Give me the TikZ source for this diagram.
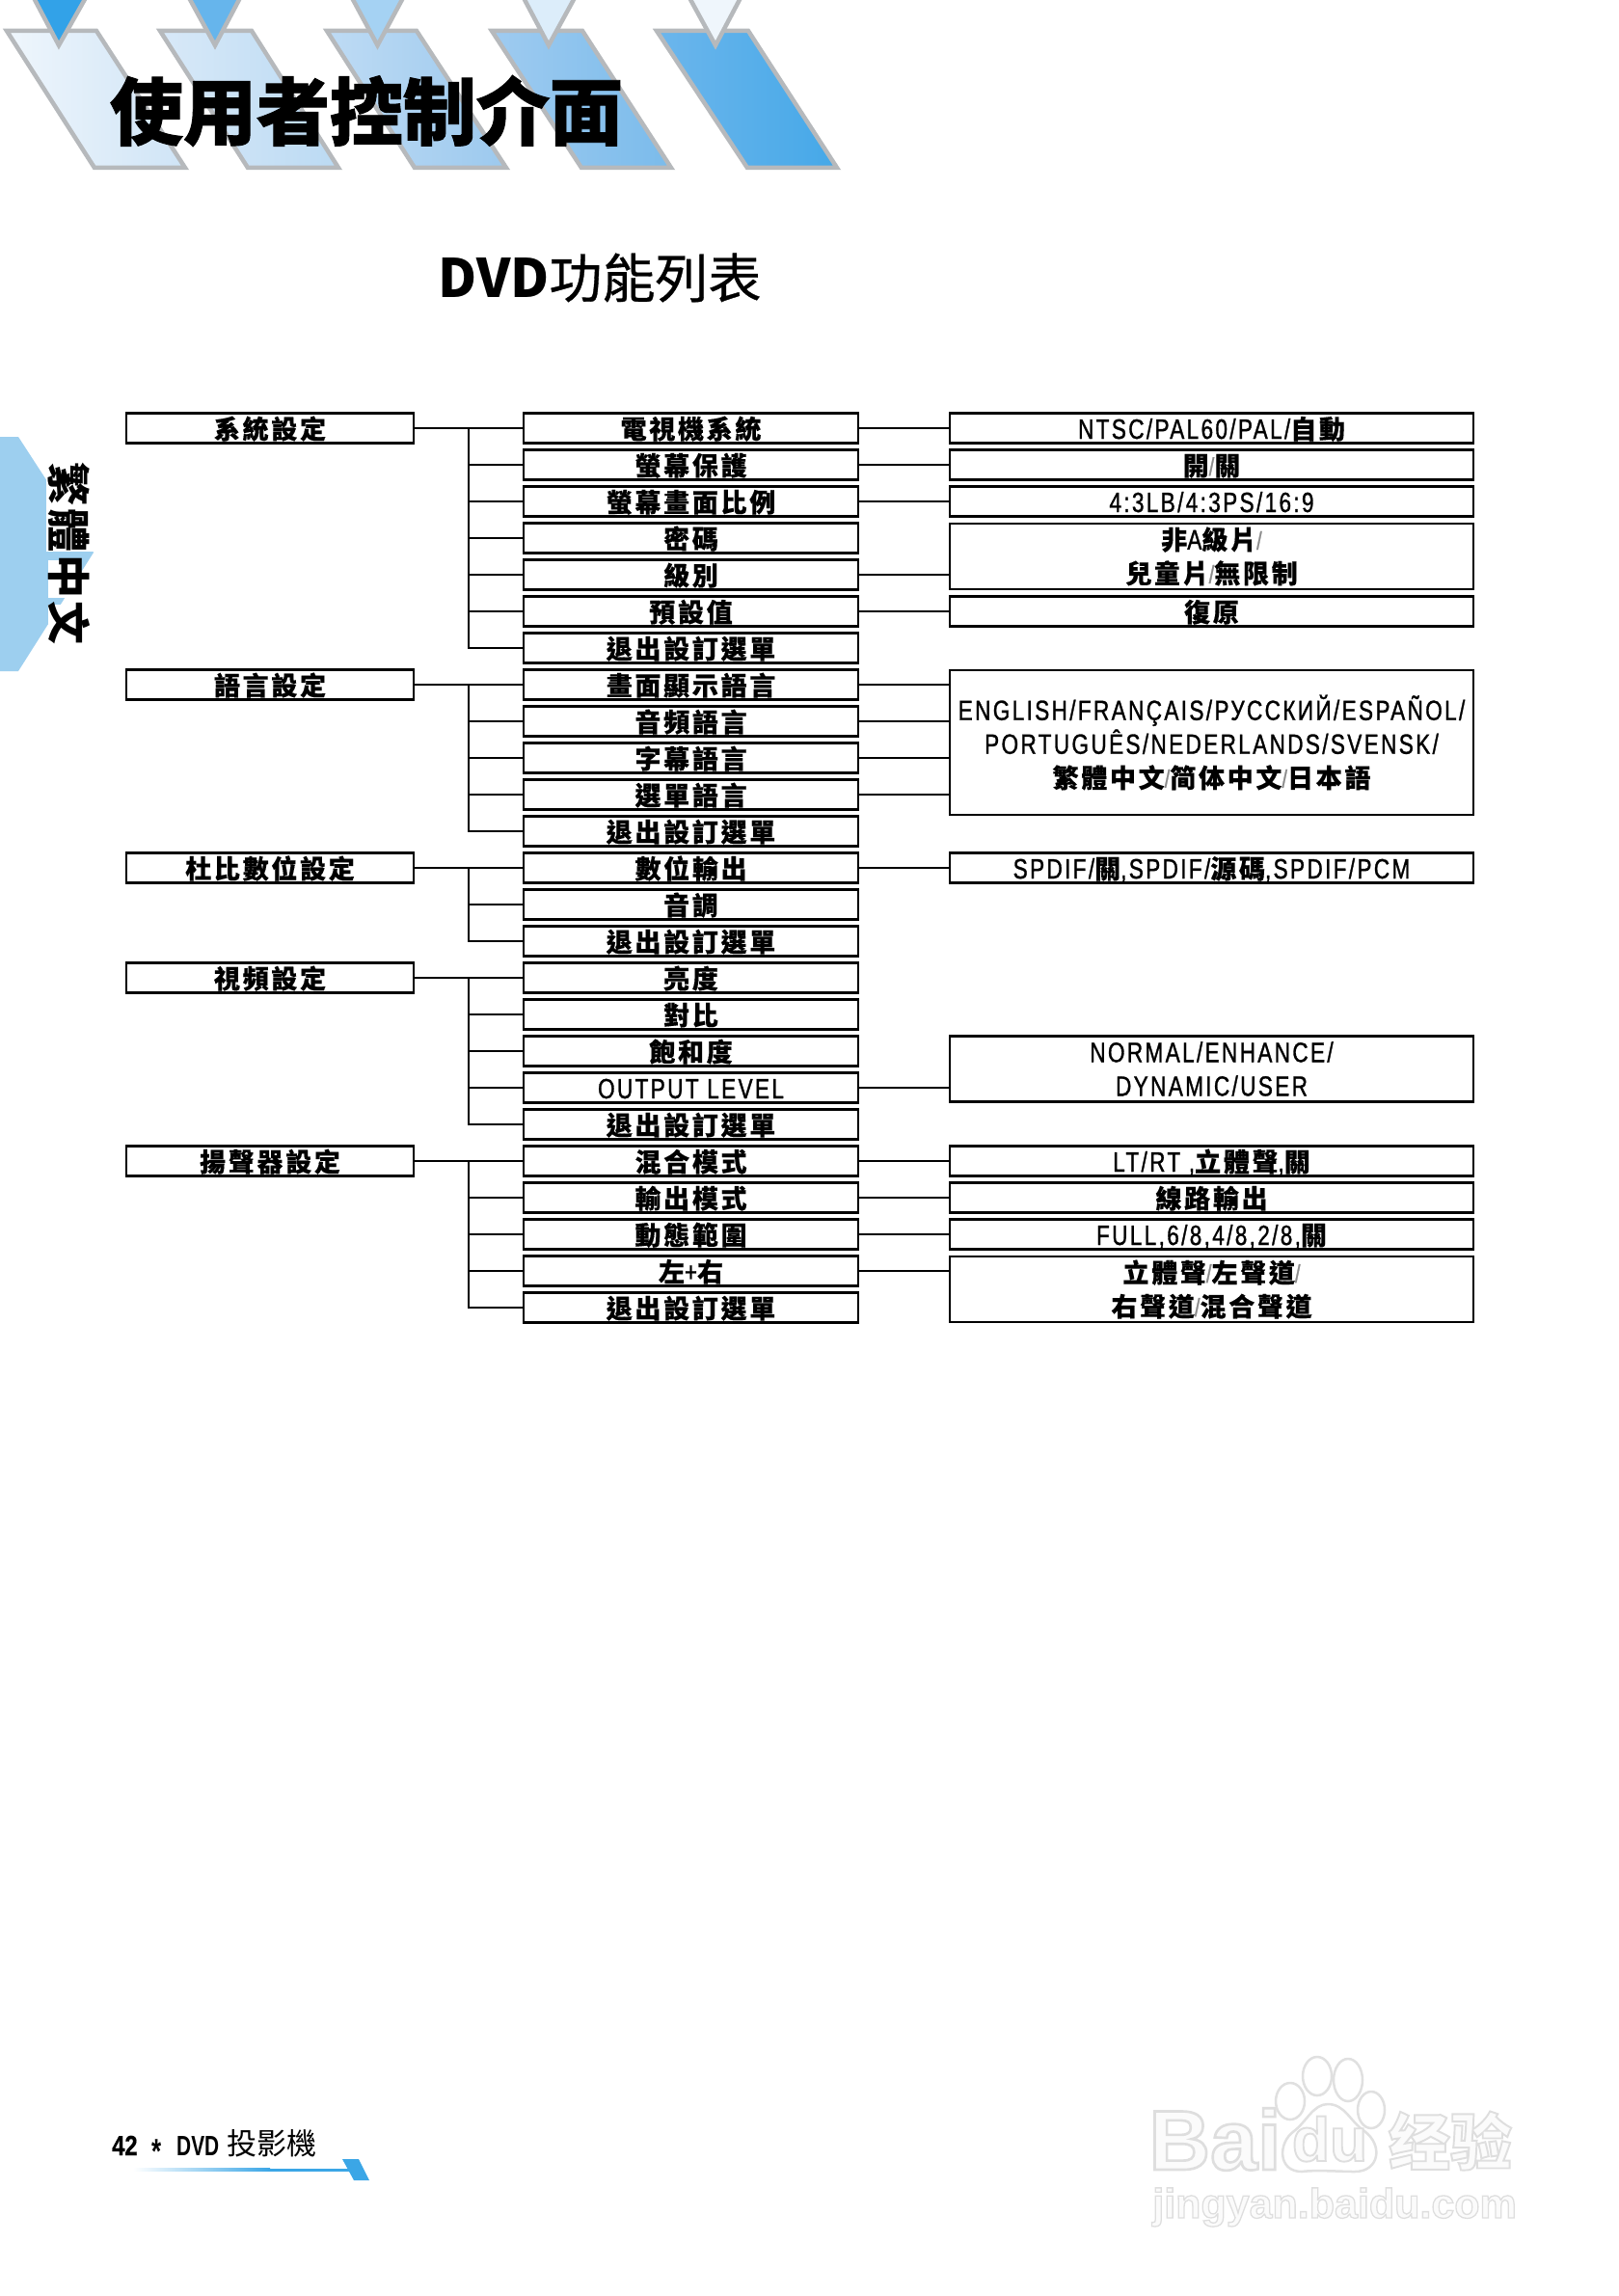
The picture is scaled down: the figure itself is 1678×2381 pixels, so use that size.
\documentclass[tikz,border=0pt]{standalone}
\usepackage{fontspec}
\newfontfamily\cjk[LetterSpace=10,FakeBold=0.35]{Noto Sans CJK TC}
\newfontfamily\cjktab[LetterSpace=6]{Noto Sans CJK TC}
\newfontfamily\cjktitle[FakeBold=1.2]{Noto Sans CJK TC}
\newfontfamily\cjksub[FakeBold=0.6]{Noto Sans CJK TC}
\newfontfamily\cjkplain{Noto Sans CJK TC}
\newfontfamily\cjkwm[FakeBold=3]{Noto Sans CJK SC}
\newfontfamily\narrow[FakeStretch=0.78,FakeBold=1.0,LetterSpace=8]{Liberation Sans}
\newfontfamily\narrowb[FakeStretch=0.72]{Liberation Sans}
\newfontfamily\narrowc[FakeStretch=0.82,FakeBold=0.5]{Liberation Sans}
\newfontfamily\wm[FakeBold=3]{Liberation Sans}
\newcommand{\la}[1]{{\fontsize{29}{35}\selectfont\mdseries\narrow #1}}
\newcommand{\sla}{{\fontsize{26}{35}\selectfont\mdseries\narrow\color{black!45}/}}
\newcommand{\hollow}[1]{\special{pdf:bcolor [0.985] [0.87]}#1\special{pdf:ecolor}}
\definecolor{edgegrey}{HTML}{B6B9BC}
\definecolor{tabblue}{HTML}{9DCFEF}
\definecolor{footblue}{HTML}{3BA6E6}
\definecolor{wmgrey}{HTML}{E0E0E0}
\definecolor{b1a}{HTML}{EFF6FC}\definecolor{b1b}{HTML}{CFE4F6}
\definecolor{b2a}{HTML}{D8E9F8}\definecolor{b2b}{HTML}{BBDAF3}
\definecolor{b3a}{HTML}{BEDBF4}\definecolor{b3b}{HTML}{9CC9EE}
\definecolor{b4a}{HTML}{9FCBF0}\definecolor{b4b}{HTML}{7ABBEB}
\definecolor{b5a}{HTML}{6CB6EC}\definecolor{b5b}{HTML}{45A8E8}
\definecolor{t1}{HTML}{32A2E8}\definecolor{t2}{HTML}{66B5EC}\definecolor{t3}{HTML}{A5D2F3}\definecolor{t4}{HTML}{DCEDFA}\definecolor{t5}{HTML}{EFF6FC}
\tikzset{
  tree/.style={draw=black,line width=2.1pt,fill=white,rectangle,inner sep=0pt,outer sep=0pt,
    font=\fontsize{27}{35}\selectfont\cjk\bfseries,align=center},
  one/.style={tree,minimum height=31pt,text height=23pt,text depth=1pt},
  lbox/.style={one,minimum width=298pt},
  mbox/.style={one,minimum width=347pt},
  rbox/.style={one,minimum width=543.5pt},
  rmulti/.style={tree,minimum width=543.5pt},
  conn/.style={draw=black,line width=2.1pt},
  band/.style={draw=edgegrey,line width=4.5pt,line join=miter},
  tip/.style={draw=edgegrey,line width=4.5pt,line join=miter},
  wmtext/.style={inner sep=0pt,anchor=base},
  wmshape/.style={draw=wmgrey,line width=2.5pt,fill=white}
}
\begin{document}
\begin{tikzpicture}[x=1pt,y=-1pt]
\useasboundingbox (0,0) rectangle (1678,2381);
\fill[white] (0,0) rectangle (1678,2381);
% header bands
\path[band,left color=b1a,right color=b1b] (7,32)--(100,32)--(192,174)--(98,174)--cycle;
\path[band,left color=b2a,right color=b2b] (166,32)--(261,32)--(351,174)--(257,174)--cycle;
\path[band,left color=b3a,right color=b3b] (339,32)--(432,32)--(525,174)--(430,174)--cycle;
\path[band,left color=b4a,right color=b4b] (510,32)--(604,32)--(696,174)--(603,174)--cycle;
\path[band,left color=b5a,right color=b5b] (681,32)--(776,32)--(868,174)--(775,174)--cycle;
% header tips
\path[tip,fill=t1] (33,-6)--(91,-6)--(61,47)--cycle;
\path[tip,fill=t2] (194,-6)--(251,-6)--(223,47)--cycle;
\path[tip,fill=t3] (363,-6)--(420,-6)--(391.5,47)--cycle;
\path[tip,fill=t4] (541,-6)--(598,-6)--(569,47)--cycle;
\path[tip,fill=t5] (713,-6)--(770,-6)--(742,47)--cycle;
% titles
\node[inner sep=0pt,font=\fontsize{76}{80}\selectfont\cjktitle\bfseries] (title) at (380,115) {使用者控制介面};
\node[inner sep=0pt,font=\fontsize{55}{60}\selectfont\cjksub] (subtitle) at (622,288) {{\cjkplain\bfseries DVD}功能列表};
% side tab
\fill[tabblue] (0,453)--(19,453)--(97,573)--(19,696)--(0,696)--cycle;
\fill[white] (48,478) rectangle (97,572);
\fill[white] (50,581) rectangle (80,620);
\fill[white] (50,627) rectangle (64,668);
\node[inner sep=0pt,rotate=-90,font=\fontsize{45}{50}\selectfont\cjktab\bfseries] (tab) at (72,574) {繁體中文};
% bus junctions
\coordinate (b0) at (486,444);
\coordinate (b1) at (486,710);
\coordinate (b2) at (486,900);
\coordinate (b3) at (486,1014);
\coordinate (b4) at (486,1204);
% left column
\node[lbox] (l0) at (280,444) {系統設定};
\node[lbox] (l1) at (280,710) {語言設定};
\node[lbox] (l2) at (280,900) {杜比數位設定};
\node[lbox] (l3) at (280,1014) {視頻設定};
\node[lbox] (l4) at (280,1204) {揚聲器設定};
% middle column
\node[mbox] (m0) at (716.5,444) {電視機系統};
\node[mbox] (m1) at (716.5,482) {螢幕保護};
\node[mbox] (m2) at (716.5,520) {螢幕畫面比例};
\node[mbox] (m3) at (716.5,558) {密碼};
\node[mbox] (m4) at (716.5,596) {級別};
\node[mbox] (m5) at (716.5,634) {預設值};
\node[mbox] (m6) at (716.5,672) {退出設訂選單};
\node[mbox] (m7) at (716.5,710) {畫面顯示語言};
\node[mbox] (m8) at (716.5,748) {音頻語言};
\node[mbox] (m9) at (716.5,786) {字幕語言};
\node[mbox] (m10) at (716.5,824) {選單語言};
\node[mbox] (m11) at (716.5,862) {退出設訂選單};
\node[mbox] (m12) at (716.5,900) {數位輸出};
\node[mbox] (m13) at (716.5,938) {音調};
\node[mbox] (m14) at (716.5,976) {退出設訂選單};
\node[mbox] (m15) at (716.5,1014) {亮度};
\node[mbox] (m16) at (716.5,1052) {對比};
\node[mbox] (m17) at (716.5,1090) {飽和度};
\node[mbox] (m18) at (716.5,1128) {\la{OUTPUT LEVEL}};
\node[mbox] (m19) at (716.5,1166) {退出設訂選單};
\node[mbox] (m20) at (716.5,1204) {混合模式};
\node[mbox] (m21) at (716.5,1242) {輸出模式};
\node[mbox] (m22) at (716.5,1280) {動態範圍};
\node[mbox] (m23) at (716.5,1318) {左\la{+}右};
\node[mbox] (m24) at (716.5,1356) {退出設訂選單};
% right column
\node[rbox] (r0) at (1256.5,444) {\la{NTSC/PAL60/PAL/}自動};
\node[rbox] (r1) at (1256.5,482) {開\sla 關};
\node[rbox] (r2) at (1256.5,520) {\la{4:3LB/4:3PS/16:9}};
\node[rmulti,minimum height=68pt] (r3) at (1256.5,577) {非\la{A}級片\sla\\兒童片\sla 無限制};
\node[rbox] (r5) at (1256.5,634) {復原};
\node[rmulti,minimum height=150pt] (r7) at (1256.5,770) {\la{ENGLISH/FRANÇAIS/РУССКИЙ/ESPAÑOL/}\\\la{PORTUGUÊS/NEDERLANDS/SVENSK/}\\繁體中文\sla 简体中文\sla 日本語};
\node[rbox] (r12) at (1256.5,900) {\la{SPDIF/}關\la{,SPDIF/}源碼\la{,SPDIF/PCM}};
\node[rmulti,minimum height=68pt] (r18) at (1256.5,1108.5) {\la{NORMAL/ENHANCE/}\\\la{DYNAMIC/USER}};
\node[rbox] (r20) at (1256.5,1204) {\la{LT/RT ,}立體聲\la{,}關};
\node[rbox] (r21) at (1256.5,1242) {線路輸出};
\node[rbox] (r22) at (1256.5,1280) {\la{FULL,6/8,4/8,2/8,}關};
\node[rmulti,minimum height=68pt] (r23) at (1256.5,1337) {立體聲\sla 左聲道\sla\\右聲道\sla 混合聲道};
% connectors left to middle
\foreach \l/\m in {l0/m0,l1/m7,l2/m12,l3/m15,l4/m20}{\draw[conn] (\l.east) -- (\m.west);}
\foreach \m in {m1,m2,m3,m4,m5,m6}{\draw[conn] (b0) |- (\m.west);}
\foreach \m in {m8,m9,m10,m11}{\draw[conn] (b1) |- (\m.west);}
\foreach \m in {m13,m14}{\draw[conn] (b2) |- (\m.west);}
\foreach \m in {m16,m17,m18,m19}{\draw[conn] (b3) |- (\m.west);}
\foreach \m in {m21,m22,m23,m24}{\draw[conn] (b4) |- (\m.west);}
% connectors middle to right
\foreach \m/\r in {m0/r0,m1/r1,m2/r2,m4/r3,m5/r5,m7/r7,m8/r7,m9/r7,m10/r7,m12/r12,m18/r18,m20/r20,m21/r21,m22/r22,m23/r23}{\draw[conn] (\m.east) -- (\m.east -| \r.west);}
% footer
\node[inner sep=0pt,anchor=base west,font=\fontsize{29}{32}\selectfont\narrowc\bfseries] (pg) at (116,2235) {42};
\node[inner sep=0pt,anchor=center,font=\fontsize{36}{36}\selectfont\narrowb\bfseries] (star) at (163,2231) {*};
\node[inner sep=0pt,anchor=base west,font=\fontsize{29}{32}\selectfont\narrowb\bfseries] (dvd) at (183,2235) {DVD};
\node[inner sep=0pt,anchor=base west,font=\fontsize{31}{32}\selectfont\cjkplain] (prod) at (235,2234) {投影機};
\shade[left color=white,right color=footblue] (138,2248.5) rectangle (280,2251.5);
\fill[footblue] (280,2248.5) rectangle (365,2251.5);
\fill[footblue] (355,2239)--(372,2239)--(383,2261)--(367,2261)--cycle;
% watermark
\node[wmtext,font=\fontsize{88}{90}\selectfont\wm\bfseries] (wm1) at (1260,2250) {\hollow{Bai}};
\draw[wmshape] (1338,2179) ellipse (15 and 19);
\draw[wmshape] (1366,2153) ellipse (15 and 20);
\draw[wmshape] (1398,2157) ellipse (15 and 22);
\draw[wmshape] (1422,2188) ellipse (14 and 19);
\draw[wmshape] (1377,2182) .. controls (1395,2182) and (1400,2200) .. (1415,2210) .. controls (1435,2225) and (1430,2252) .. (1405,2252) .. controls (1390,2252) and (1365,2250) .. (1350,2252) .. controls (1325,2252) and (1325,2222) .. (1342,2210) .. controls (1355,2200) and (1362,2182) .. (1377,2182) -- cycle;
\node[wmtext,font=\fontsize{64}{66}\selectfont\wm\bfseries] (wm2) at (1379,2241) {\hollow{du}};
\node[wmtext,font=\fontsize{64}{66}\selectfont\cjkwm\bfseries] (wm3) at (1504,2245) {\hollow{经验}};
\node[wmtext,font=\fontsize{43}{44}\selectfont\wm\bfseries] (wm4) at (1384,2300) {\hollow{jingyan.baidu.com}};
\end{tikzpicture}
\end{document}
